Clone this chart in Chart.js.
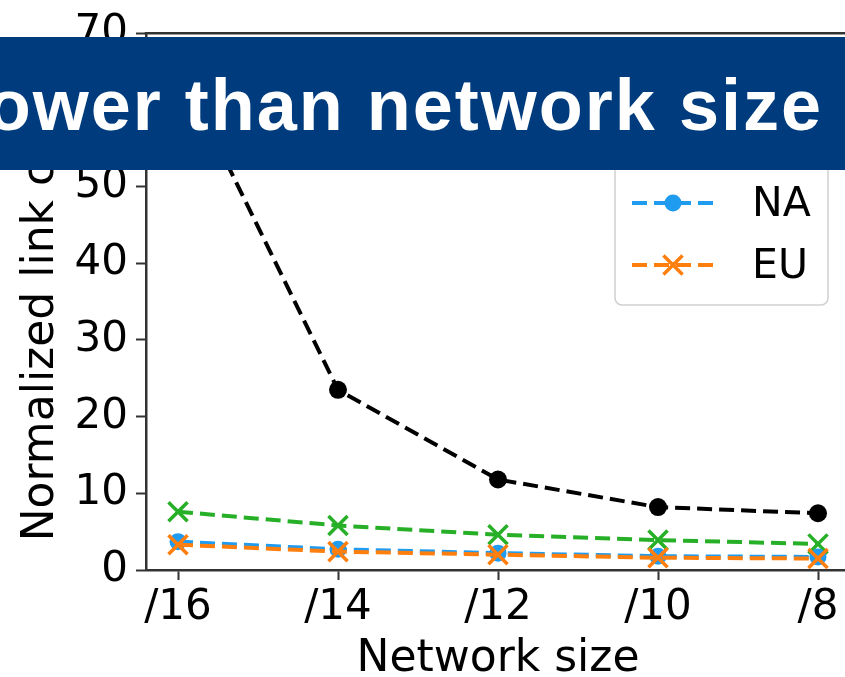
<!DOCTYPE html>
<html>
<head>
<meta charset="utf-8">
<script src="https://cdn.jsdelivr.net/npm/chart.js@4.4.1/dist/chart.umd.min.js"></script>
<style>
  html, body { margin: 0; padding: 0; overflow: hidden; background: #fff; width: 845px; height: 677px; }
  #wrap { position: absolute; left: 0; top: 0; width: 870px; height: 690px; }
  #banner { position: absolute; left: 0; top: 37px; width: 845px; height: 133px; background: #003c7d; overflow: hidden; }
  #banner span { position: absolute; right: 22px; top: 0; font: bold 72px "Liberation Sans", Arial, sans-serif;
                 line-height: 137px; color: #fff; letter-spacing: 2px; white-space: nowrap; }
</style>
</head>
<body>
<div id="wrap"><canvas id="c" width="870" height="690"></canvas></div>
<div id="banner"><span>slower than network size</span></div>
<script>
// Network prefix sizes along the x axis
const categories = ['/16', '/14', '/12', '/10', '/8'];

// Normalized link values per region
const globalValues = [66, 23.5, 11.8, 8.2, 7.4];
const apValues     = [7.6, 5.8, 4.6, 3.9, 3.4];
const naValues     = [3.7, 2.7, 2.2, 1.8, 1.7];
const euValues     = [3.3, 2.4, 2.0, 1.6, 1.5];

const seriesNames = ['Global', 'AP', 'NA', 'EU'];

const yTicks = [0, 10, 20, 30, 40, 50, 60, 70];

const FONT = '"DejaVu Sans", sans-serif';
const AXIS = '#333333';
const DASH = [15, 7];

function series(label, values, color, style, radius, order) {
  return {
    label,
    data: values.map((v, i) => ({ x: i, y: v })),
    borderColor: color,
    backgroundColor: color,
    borderWidth: 4,
    borderDash: DASH,
    borderCapStyle: 'butt',
    tension: 0,
    fill: false,
    pointStyle: style,
    pointRadius: radius,
    pointHoverRadius: radius,
    pointBackgroundColor: color,
    pointBorderColor: color,
    pointBorderWidth: style === 'circle' ? 0 : 3.5,
    order
  };
}

const datasets = [
  series(seriesNames[0], globalValues, '#000000', 'circle', 9, 4),
  series(seriesNames[1], apValues, '#27b027', 'crossRot', 13.5, 3),
  series(seriesNames[2], naValues, '#1f9bf0', 'circle', 8.5, 2),
  series(seriesNames[3], euValues, '#ff7f0e', 'crossRot', 13.5, 1)
];

// Upper frame line of the plot area
const topSpine = {
  id: 'topSpine',
  afterDraw(chart) {
    const { ctx, chartArea: a } = chart;
    ctx.save();
    ctx.strokeStyle = AXIS;
    ctx.lineWidth = 2.5;
    ctx.beginPath();
    ctx.moveTo(a.left - 1.25, a.top);
    ctx.lineTo(a.right, a.top);
    ctx.stroke();
    ctx.restore();
  }
};

// Boxed legend inside the plot area, each entry shows dashed line + marker
const boxLegend = {
  id: 'boxLegend',
  afterDraw(chart) {
    const { ctx } = chart;
    const box = { x: 615, y: 49, w: 213, h: 256, r: 7 };
    ctx.save();
    ctx.beginPath();
    ctx.roundRect(box.x, box.y, box.w, box.h, box.r);
    ctx.fillStyle = 'rgba(255,255,255,0.85)';
    ctx.fill();
    ctx.strokeStyle = '#cfcfcf';
    ctx.lineWidth = 1.5;
    ctx.stroke();
    chart.data.datasets.forEach((ds, i) => {
      const y = 79 + i * 62;
      ctx.save();
      ctx.strokeStyle = ds.borderColor;
      ctx.lineWidth = ds.borderWidth;
      ctx.setLineDash(ds.borderDash);
      ctx.lineCap = 'butt';
      ctx.beginPath();
      ctx.moveTo(632, y);
      ctx.lineTo(714, y);
      ctx.stroke();
      ctx.setLineDash([]);
      ctx.fillStyle = ds.pointBackgroundColor;
      ctx.strokeStyle = ds.pointBorderColor;
      ctx.lineWidth = ds.pointBorderWidth;
      Chart.helpers.drawPoint(ctx, {
        pointStyle: ds.pointStyle, rotation: 0,
        radius: ds.pointRadius, borderWidth: ds.pointBorderWidth
      }, 673, y);
      ctx.restore();
      ctx.fillStyle = '#000';
      ctx.font = '41px ' + FONT;
      ctx.textBaseline = 'middle';
      ctx.textAlign = 'left';
      ctx.fillText(ds.label, 752, y + 2);
    });
    ctx.restore();
  }
};

new Chart(document.getElementById('c'), {
  type: 'line',
  data: { datasets },
  options: {
    responsive: false,
    animation: false,
    events: [],
    layout: { padding: { left: 0, top: 25, right: 20, bottom: 0 } },
    plugins: { legend: { display: false }, tooltip: { enabled: false } },
    scales: {
      x: {
        type: 'linear',
        min: -0.2,
        max: 4.2,
        afterBuildTicks: s => { s.ticks = categories.map((_, i) => ({ value: i })); },
        afterFit: s => { s.height = 120; },
        ticks: {
          callback: v => categories[v],
          color: '#000',
          font: { family: FONT, size: 42 },
          padding: 3,
          maxRotation: 0,
          autoSkip: false
        },
        grid: { drawOnChartArea: false, drawTicks: true, tickLength: 10, tickWidth: 2, tickColor: AXIS },
        border: { display: true, color: AXIS, width: 2.5 },
        title: {
          display: true,
          text: 'Network size',
          color: '#000',
          font: { family: FONT, size: 44 },
          padding: { top: 0, bottom: 4 }
        }
      },
      y: {
        min: 0,
        max: 70,
        afterBuildTicks: s => { s.ticks = yTicks.map(v => ({ value: v })); },
        afterFit: s => { s.width = 146; },
        ticks: {
          color: '#000',
          font: { family: FONT, size: 42 },
          padding: 8
        },
        grid: { drawOnChartArea: false, drawTicks: true, tickLength: 10, tickWidth: 2, tickColor: AXIS },
        border: { display: true, color: AXIS, width: 2.5 },
        title: {
          display: true,
          text: 'Normalized link count',
          color: '#000',
          font: { family: FONT, size: 44 },
          padding: { top: 15, bottom: 0 }
        }
      }
    }
  },
  plugins: [topSpine, boxLegend]
});
</script>
</body>
</html>
